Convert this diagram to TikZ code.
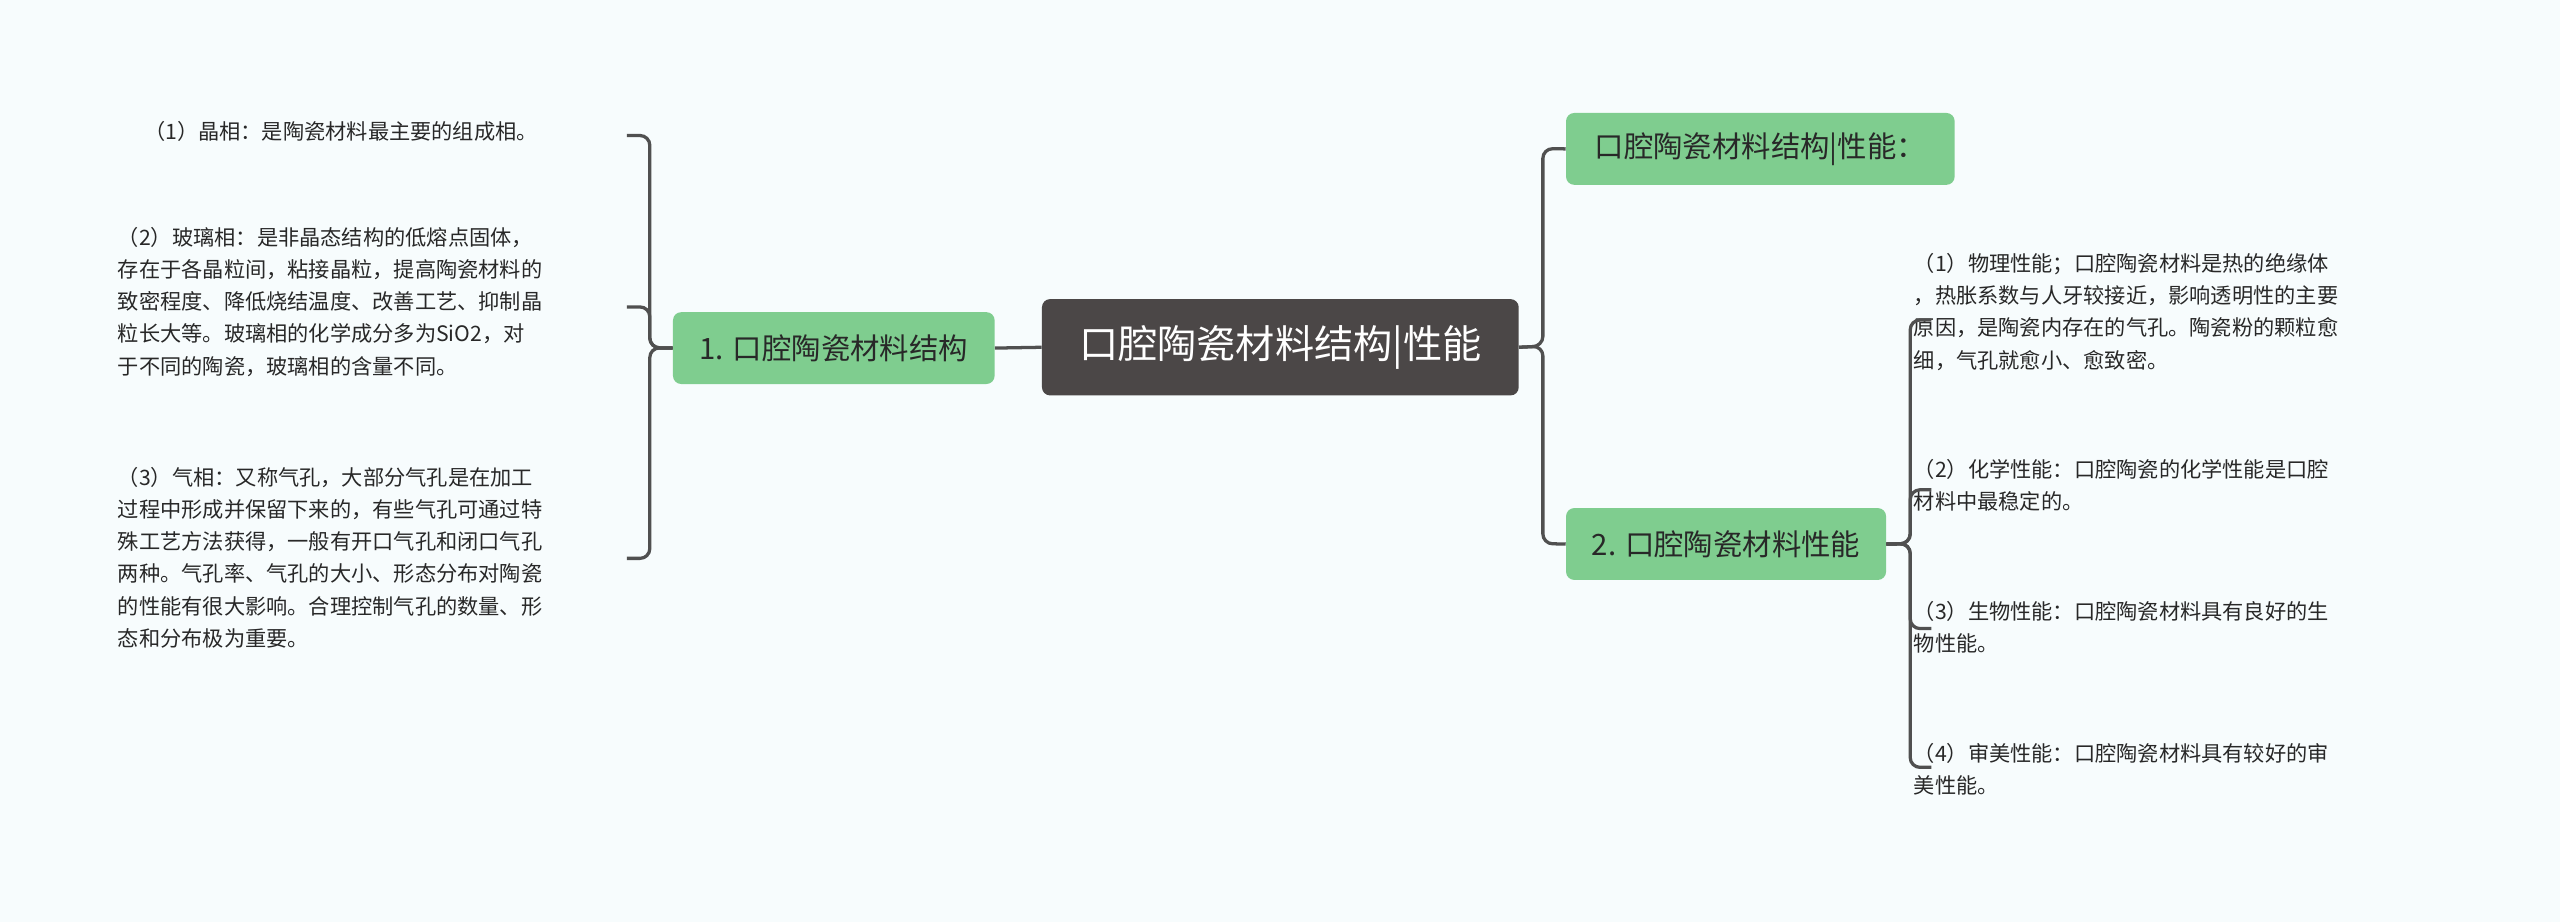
\documentclass[tikz,border=0pt]{standalone}
\usepackage{fontspec}
\setmainfont{Noto Sans CJK SC}
\definecolor{bg}{RGB}{247,252,253}
\definecolor{grn}{RGB}{127,205,143}
\definecolor{ctr}{RGB}{75,71,71}
\definecolor{ln}{RGB}{80,80,80}
\definecolor{tx}{RGB}{40,40,40}
\tikzset{
 gbox/.style={fill=grn,rounded corners=5pt,text=tx,font=\fontsize{18}{20}\selectfont,inner sep=0pt,anchor=north west},
 leaf/.style={anchor=north west,inner sep=0pt,align=left,text=tx,font=\fontsize{13}{19.7}\selectfont},
 conn/.style={draw=ln,line width=2pt,rounded corners=6pt}
}
\begin{document}
\begin{tikzpicture}[x=1pt,y=-1pt]
\fill[bg] (0,0) rectangle (1568,565);
\useasboundingbox (0,0) rectangle (1568,565);
\node[fill=ctr,rounded corners=5pt,text=white,font=\fontsize{24}{26}\selectfont,minimum width=292pt,minimum height=59pt,inner sep=0pt,anchor=north west] (c) at (638,183) {口腔陶瓷材料结构|性能};
\node[gbox,minimum width=197pt,minimum height=44pt] (l) at (412,191) {1. 口腔陶瓷材料结构};
\node[gbox,minimum width=238pt,minimum height=44pt] (rt) at (959,69) {口腔陶瓷材料结构|性能：};
\node[gbox,minimum width=196pt,minimum height=44pt] (rb) at (959,311) {2. 口腔陶瓷材料性能};
% left leaves
\node[leaf] (a1) at (88,74) {（1）晶相：是陶瓷材料最主要的组成相。};
\node[leaf] (a2) at (72,139) {（2）玻璃相：是非晶态结构的低熔点固体，\\存在于各晶粒间，粘接晶粒，提高陶瓷材料的\\致密程度、降低烧结温度、改善工艺、抑制晶\\粒长大等。玻璃相的化学成分多为SiO2，对\\于不同的陶瓷，玻璃相的含量不同。};
\node[leaf] (a3) at (72,286) {（3）气相：又称气孔，大部分气孔是在加工\\过程中形成并保留下来的，有些气孔可通过特\\殊工艺方法获得，一般有开口气孔和闭口气孔\\两种。气孔率、气孔的大小、形态分布对陶瓷\\的性能有很大影响。合理控制气孔的数量、形\\态和分布极为重要。};
% right leaves
\node[leaf] (b1) at (1172,155) {（1）物理性能；口腔陶瓷材料是热的绝缘体\\，热胀系数与人牙较接近，影响透明性的主要\\原因，是陶瓷内存在的气孔。陶瓷粉的颗粒愈\\细，气孔就愈小、愈致密。};
\node[leaf] (b2) at (1172,281) {（2）化学性能：口腔陶瓷的化学性能是口腔\\材料中最稳定的。};
\node[leaf] (b3) at (1172,368) {（3）生物性能：口腔陶瓷材料具有良好的生\\物性能。};
\node[leaf] (b4) at (1172,455) {（4）审美性能：口腔陶瓷材料具有较好的审\\美性能。};
\coordinate (e1) at (384,83);
\coordinate (e2) at (384,188);
\coordinate (e3) at (384,342);
\coordinate (f1) at (1183,196);
\coordinate (f2) at (1183,300);
\coordinate (f3) at (1183,385);
\coordinate (f4) at (1183,470);
\draw[conn] (c.west) -- (l.east);
\draw[conn] (c.east) -- (945,212) -- (945,91) -- (rt.west);
\draw[conn] (c.east) -- (945,212) -- (945,333) -- (rb.west);
\foreach \e in {e1,e2,e3} \draw[conn] (l.west) -- (398,213) -- (398,0 |- \e) -- (\e);
\foreach \e in {f1,f2,f3,f4} \draw[conn] (rb.east) -- (1170,333) -- (1170,0 |- \e) -- (\e);
\end{tikzpicture}
\end{document}
